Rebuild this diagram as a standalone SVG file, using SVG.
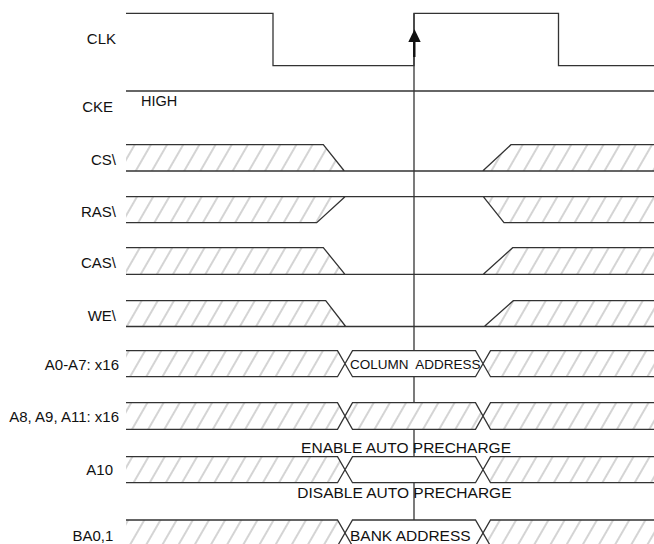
<svg xmlns="http://www.w3.org/2000/svg" width="654" height="544" viewBox="0 0 654 544">
<defs>
<pattern id="hatch" patternUnits="userSpaceOnUse" width="14" height="14" patternTransform="rotate(30)">
<rect width="14" height="14" fill="#fff"/>
<line x1="7" y1="-1" x2="7" y2="15" stroke="#aaa" stroke-width="1"/>
</pattern>
</defs>
<style>
.ln{fill:none;stroke:#333;stroke-width:1.3;stroke-linejoin:miter}
.ht{fill:url(#hatch);stroke:none}
.wh{fill:#fff;stroke:none}
.lbl{font-family:"Liberation Sans",Arial,sans-serif;font-size:15px;fill:#111;text-anchor:end}
.txt{font-family:"Liberation Sans",Arial,sans-serif;fill:#111}
</style>
<rect width="654" height="544" fill="#fff"/>
<g id="connectors">
<line class="ln" x1="414" y1="13.3" x2="414" y2="546"/>
</g>
<g id="clk">
<text class="lbl" x="116" y="44">CLK</text>
<path class="ln" d="M126,13.3 H273 V65.7 H414 V13.3 H558.5 V65.7 H654"/>
</g>
<g id="cke">
<text class="lbl" x="113" y="111.5">CKE</text>
<path class="ln" d="M126,91 H654"/>
<text class="txt" x="141" y="106" font-size="14.5">HIGH</text>
</g>
<g id="cs">
<text class="lbl" x="116" y="165">CS\</text>
<polygon class="ht" points="126,144.7 323.3,144.7 344.3,171 126,171"/>
<polygon class="ht" points="482.7,171 511,144.7 654,144.7 654,171"/>
<path class="ln" d="M126,144.7 H323.3 L344.3,171 M126,171 H654 M482.7,171 L511,144.7 H654"/>
</g>
<g id="ras">
<text class="lbl" x="116" y="216.7">RAS\</text>
<polygon class="ht" points="126,196.7 345,196.7 316.7,222.7 126,222.7"/>
<polygon class="ht" points="483.3,196.7 654,196.7 654,222.7 504,222.7"/>
<path class="ln" d="M126,196.7 H654 M126,222.7 H316.7 L345,196.7 M483.3,196.7 L504,222.7 H654"/>
</g>
<g id="cas">
<text class="lbl" x="116" y="268">CAS\</text>
<polygon class="ht" points="126,247.7 323.3,247.7 345,274.3 126,274.3"/>
<polygon class="ht" points="483.3,274.3 512.7,247.7 654,247.7 654,274.3"/>
<path class="ln" d="M126,247.7 H323.3 L345,274.3 M126,274.3 H654 M483.3,274.3 L512.7,247.7 H654"/>
</g>
<g id="we">
<text class="lbl" x="116" y="320.7">WE\</text>
<polygon class="ht" points="126,300.7 325.7,300.7 345.7,326.5 126,326.5"/>
<polygon class="ht" points="484.3,326.5 513.3,300.7 654,300.7 654,326.5"/>
<path class="ln" d="M126,300.7 H325.7 L345.7,326.5 M126,326.5 H654 M484.3,326.5 L513.3,300.7 H654"/>
</g>
<g id="a0a7">
<text class="lbl" x="119" y="370">A0-A7: x16</text>
<polygon class="ht" points="126,350.7 337.5,350.7 345,363.7 337.5,376.7 126,376.7"/>
<polygon class="wh" points="345,363.7 352.5,350.7 475.5,350.7 483,363.7 475.5,376.7 352.5,376.7"/>
<polygon class="ht" points="483,363.7 490.5,350.7 654,350.7 654,376.7 490.5,376.7"/>
<path class="ln" d="M126,350.7 H337.5 L352.5,376.7 H475.5 L490.5,350.7 H654 M126,376.7 H337.5 L352.5,350.7 H475.5 L490.5,376.7 H654"/>
<text class="txt" x="350" y="369.3" font-size="13.5" xml:space="preserve">COLUMN  ADDRESS</text>
</g>
<g id="a8a9a11">
<text class="lbl" x="119" y="421.5">A8, A9, A11: x16</text>
<polygon class="ht" points="126,402.7 337.5,402.7 345,416 337.5,429.3 126,429.3"/>
<polygon class="ht" points="345,416 352.5,402.7 475.5,402.7 483,416 475.5,429.3 352.5,429.3"/>
<polygon class="ht" points="483,416 490.5,402.7 654,402.7 654,429.3 490.5,429.3"/>
<path class="ln" d="M126,402.7 H337.5 L352.5,429.3 H475.5 L490.5,402.7 H654 M126,429.3 H337.5 L352.5,402.7 H475.5 L490.5,429.3 H654"/>
</g>
<g id="a10">
<text class="txt" x="511" y="452.5" font-size="15.5" text-anchor="end">ENABLE AUTO PRECHARGE</text>
<text class="lbl" x="113" y="475">A10</text>
<polygon class="ht" points="126,456.7 337.5,456.7 345,469.7 337.5,482.7 126,482.7"/>
<polygon class="wh" points="345,469.7 352.5,456.7 475.5,456.7 483,469.7 475.5,482.7 352.5,482.7"/>
<polygon class="ht" points="483,469.7 490.5,456.7 654,456.7 654,482.7 490.5,482.7"/>
<path class="ln" d="M126,456.7 H337.5 L352.5,482.7 H475.5 L490.5,456.7 H654 M126,482.7 H337.5 L352.5,456.7 H475.5 L490.5,482.7 H654"/>
<text class="txt" x="511.5" y="497.7" font-size="15.5" text-anchor="end">DISABLE AUTO PRECHARGE</text>
</g>
<g id="ba">
<text class="lbl" x="113.3" y="540.5">BA0,1</text>
<polygon class="ht" points="126,520 337.5,520 345,533 337.5,546 126,546"/>
<polygon class="wh" points="345,533 352.5,520 475.5,520 483,533 475.5,546 352.5,546"/>
<polygon class="ht" points="483,533 490.5,520 654,520 654,546 490.5,546"/>
<path class="ln" d="M126,520 H337.5 L352.5,546 H475.5 L490.5,520 H654 M126,546 H337.5 L352.5,520 H475.5 L490.5,546 H654"/>
<text class="txt" x="350" y="540.5" font-size="15.5">BANK ADDRESS</text>
</g>
<g id="arrow">
<line x1="414.3" y1="41" x2="414.3" y2="57" stroke="#111" stroke-width="2.4"/>
<polygon points="408.3,42 414.5,29.3 420.7,42" fill="#111"/>
</g>
</svg>
